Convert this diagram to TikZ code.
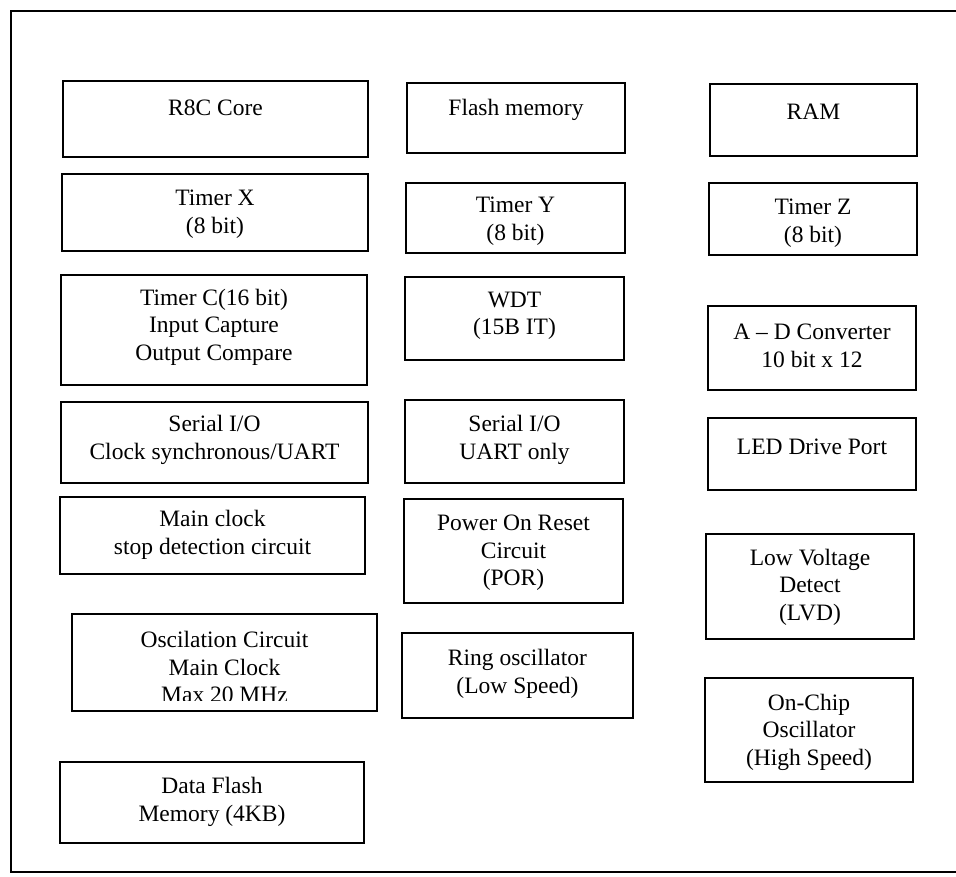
\documentclass[tikz,border=0pt]{standalone}
\usepackage{fontspec}
\setmainfont{Liberation Serif}
\begin{document}
\begin{tikzpicture}[x=1pt,y=-1pt,
  box/.style={draw=black,line width=2.8pt,rectangle,inner sep=0pt},
  txt/.style={align=center,inner sep=0pt,font={\fontsize{23.5}{27.5}\selectfont}},
  frame/.style={draw=black,line width=2.2pt}]
\useasboundingbox (0,0) rectangle (956,877);
% outer frame
\coordinate (ftr) at (962,11);
\coordinate (fbl) at (11,872);
\coordinate (fbr) at (962,872);
\draw[frame] (ftr) -| (fbl) -- (fbr);
% column 1
\node[box,minimum width=305pt,minimum height=76pt] (r8c) at (215.5,119) {};
\node[txt] (r8ct) at (215.5,108) {R8C Core};
\node[box,minimum width=306pt,minimum height=77pt] (tx) at (215,212.5) {};
\node[txt] (txt) at (215,214) {Timer X\\(8 bit)};
\node[box,minimum width=306pt,minimum height=110pt] (tc) at (214,330) {};
\node[txt] (tct) at (214,327) {Timer C(16 bit)\\Input Capture\\Output Compare};
\node[box,minimum width=307pt,minimum height=81pt] (sio1) at (214.5,442.5) {};
\node[txt] (sio1t) at (214.5,440) {Serial I/O\\Clock synchronous/UART};
\node[box,minimum width=305pt,minimum height=77pt] (mcs) at (212.5,535.5) {};
\node[txt] (mcst) at (212.5,535) {Main clock\\stop detection circuit};
\begin{scope}
\clip (72,614) rectangle (377,700);
\node[txt] (osct) at (224.5,667) {Oscilation Circuit\\Main Clock\\Max 20 MHz};
\end{scope}
\node[box,minimum width=305pt,minimum height=97pt] (osc) at (224.5,662.5) {};
\node[box,minimum width=304pt,minimum height=81pt] (dfm) at (212,802.5) {};
\node[txt] (dfmt) at (212,802) {Data Flash\\Memory (4KB)};
% column 2
\node[box,minimum width=218pt,minimum height=70pt] (fm) at (516,118) {};
\node[txt] (fmt) at (516,110) {Flash memory};
\node[box,minimum width=219pt,minimum height=70pt] (ty) at (515.5,218) {};
\node[txt] (tyt) at (515.5,221) {Timer Y\\(8 bit)};
\node[box,minimum width=219pt,minimum height=83pt] (wdt) at (514.5,318.5) {};
\node[txt] (wdtt) at (514.5,316) {WDT\\(15B IT)};
\node[box,minimum width=219pt,minimum height=83pt] (sio2) at (514.5,441.5) {};
\node[txt] (sio2t) at (514.5,440) {Serial I/O\\UART only};
\node[box,minimum width=219pt,minimum height=104pt] (por) at (513.5,551) {};
\node[txt] (port) at (513.5,553) {Power On Reset\\Circuit\\(POR)};
\node[box,minimum width=231pt,minimum height=85pt] (ring) at (517.5,675.5) {};
\node[txt] (ringt) at (517.5,674) {Ring oscillator\\(Low Speed)};
% column 3
\node[box,minimum width=207pt,minimum height=72pt] (ram) at (813.5,120) {};
\node[txt] (ramt) at (813.5,112) {RAM};
\node[box,minimum width=208pt,minimum height=72pt] (tz) at (813,219) {};
\node[txt] (tzt) at (813,223) {Timer Z\\(8 bit)};
\node[box,minimum width=208pt,minimum height=84pt] (adc) at (812,348) {};
\node[txt] (adct) at (812,346) {A -- D Converter\\10 bit x 12};
\node[box,minimum width=208pt,minimum height=72pt] (led) at (812,454) {};
\node[txt] (ledt) at (812,447) {LED Drive Port};
\node[box,minimum width=208pt,minimum height=105pt] (lvd) at (810,586.5) {};
\node[txt] (lvdt) at (810,587) {Low Voltage\\Detect\\(LVD)};
\node[box,minimum width=208pt,minimum height=104pt] (occ) at (809,730) {};
\node[txt] (occt) at (809,732) {On-Chip\\Oscillator\\(High Speed)};
\end{tikzpicture}
\end{document}
